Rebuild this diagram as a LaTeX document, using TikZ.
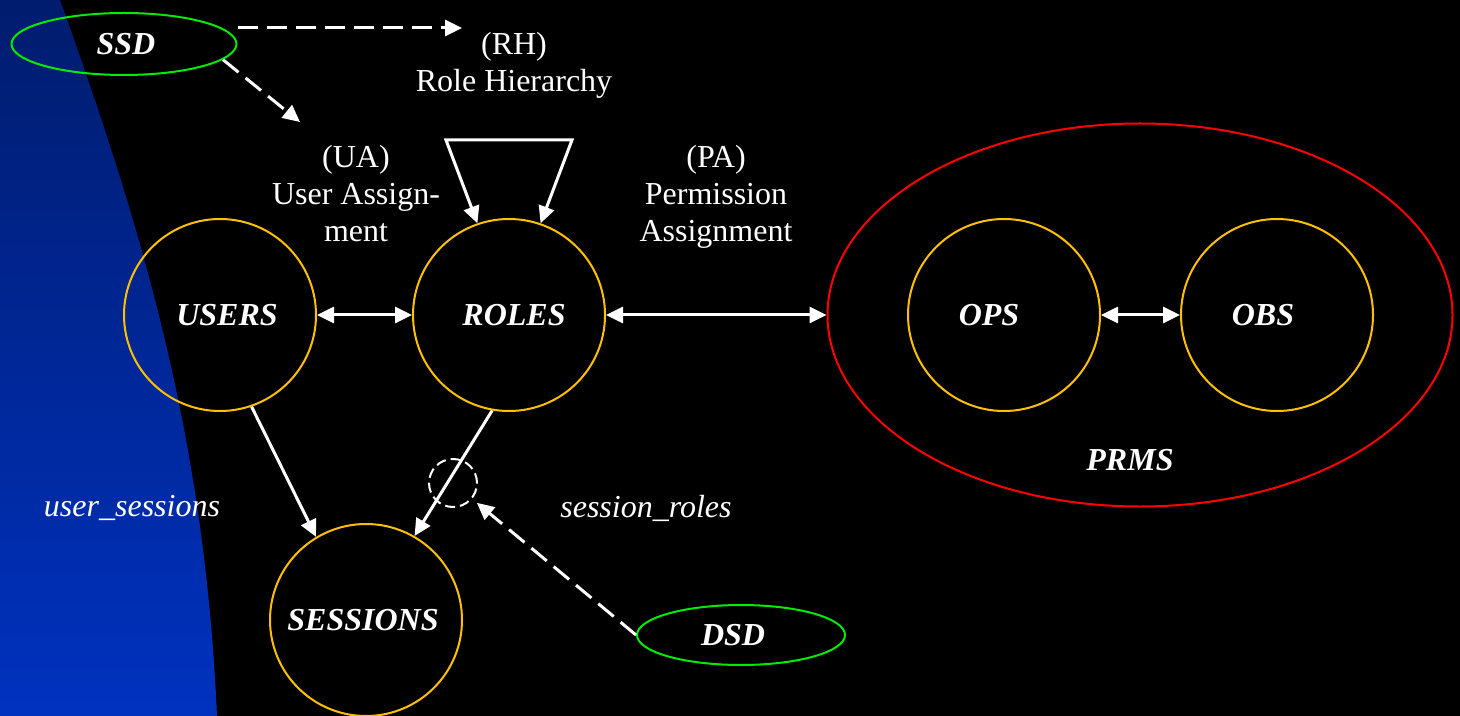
\documentclass[tikz,border=0pt]{standalone}
\usepackage{fontspec}
\setmainfont{Liberation Serif}
\usetikzlibrary{arrows.meta,shapes.geometric}
\definecolor{ringgold}{RGB}{255,192,0}
\definecolor{ringgreen}{RGB}{0,235,0}
\definecolor{sidenavy}{RGB}{0,28,110}
\definecolor{sideblue}{RGB}{0,50,192}

\begin{document}
\begin{tikzpicture}[x=0.5pt,y=-0.5pt,
  entity/.style={circle, draw=ringgold, line width=1pt, minimum size=96pt, inner sep=0pt},
  constraint/.style={ellipse, draw=ringgreen, line width=1pt, inner sep=0pt},
  setname/.style={text=white, inner sep=0pt, font=\fontsize{16}{18}\selectfont\bfseries\itshape},
  lbl/.style={text=white, align=center, inner sep=0pt,
    font=\fontsize{16}{18.5}\selectfont},
  rolelbl/.style={text=white, inner sep=0pt, font=\fontsize{16}{18}\selectfont\itshape},
  head/.tip={Triangle[length=8.5pt,width=8pt]},
  rel/.style={draw=white, line width=1.5pt, -head},
  both/.style={draw=white, line width=1.5pt, head-head},
  cons/.style={draw=white, line width=1.5pt, dash pattern=on 10pt off 4.5pt, -head}
]
\useasboundingbox (0,0) rectangle (1460,716);
\fill[black] (0,0) rectangle (1460,716);
\shade[top color=sidenavy, bottom color=sideblue]
  (0,0) -- (60,0) .. controls (150,250) and (205,450) .. (217,716) -- (0,716) -- cycle;

% main entity sets
\node[entity] (users) at (220,315) {};
\node[entity] (roles) at (509,315) {};
\node[entity] (sessions) at (366,620) {};
\node[ellipse, draw=red, line width=1pt, minimum width=312.5pt, minimum height=191.5pt,
  inner sep=0pt] (prms) at (1140,315) {};
\node[entity] (ops) at (1004,315) {};
\node[entity] (obs) at (1277,315) {};

\node[setname] (userst) at (227,315) {USERS};
\node[setname] (rolest) at (514,315) {ROLES};
\node[setname] (sessionst) at (363,620) {SESSIONS};
\node[setname] (opst) at (989,315) {OPS};
\node[setname] (obst) at (1263,315) {OBS};
\node[setname] (prmst) at (1130,460) {PRMS};

% separation of duty constraints
\node[constraint, minimum width=112.5pt, minimum height=31pt] (ssd) at (124,44) {};
\node[constraint, minimum width=104pt, minimum height=30pt] (dsd) at (741,635) {};
\node[setname] (ssdt) at (126,44) {SSD};
\node[setname] (dsdt) at (733,635) {DSD};
\node[circle, draw=white, line width=1pt, dash pattern=on 5pt off 2.5pt,
  minimum size=24pt, inner sep=0pt] (dsdc) at (453,483) {};

% relation labels
\node[lbl] (rh) at (514,65) {(RH)\\Role Hierarchy};
\node[lbl] (ua) at (356,194) {(UA)\\User Assign-\\ment};
\node[lbl] (pa) at (716,197) {(PA)\\Permission\\Assignment};
\node[rolelbl] (us) at (132,508) {user\_sessions};
\node[rolelbl] (sr) at (646,508) {session\_roles};

% free ends and corners
\coordinate (rhtip) at (462,28);
\coordinate (uatip) at (300,122);
\coordinate (rhL) at (446,140);
\coordinate (rhR) at (572,140);

% assignments
\draw[both] (users) -- (roles);
\draw[both] (roles) -- (prms);
\draw[both] (ops) -- (obs);
\draw[both] (roles.109) -- (rhL) -- (rhR) -- (roles.71);
\draw[rel] (users.-71) -- (sessions.121);
\draw[rel] (roles.260) -- (sessions.60);

% constraint arrows
\draw[cons] (ssd.east |- rhtip) -- (rhtip);
\draw[cons] (ssd.-9) -- (uatip);
\draw[cons, shorten >=3pt] (dsd.west) -- (dsdc);
\end{tikzpicture}
\end{document}
